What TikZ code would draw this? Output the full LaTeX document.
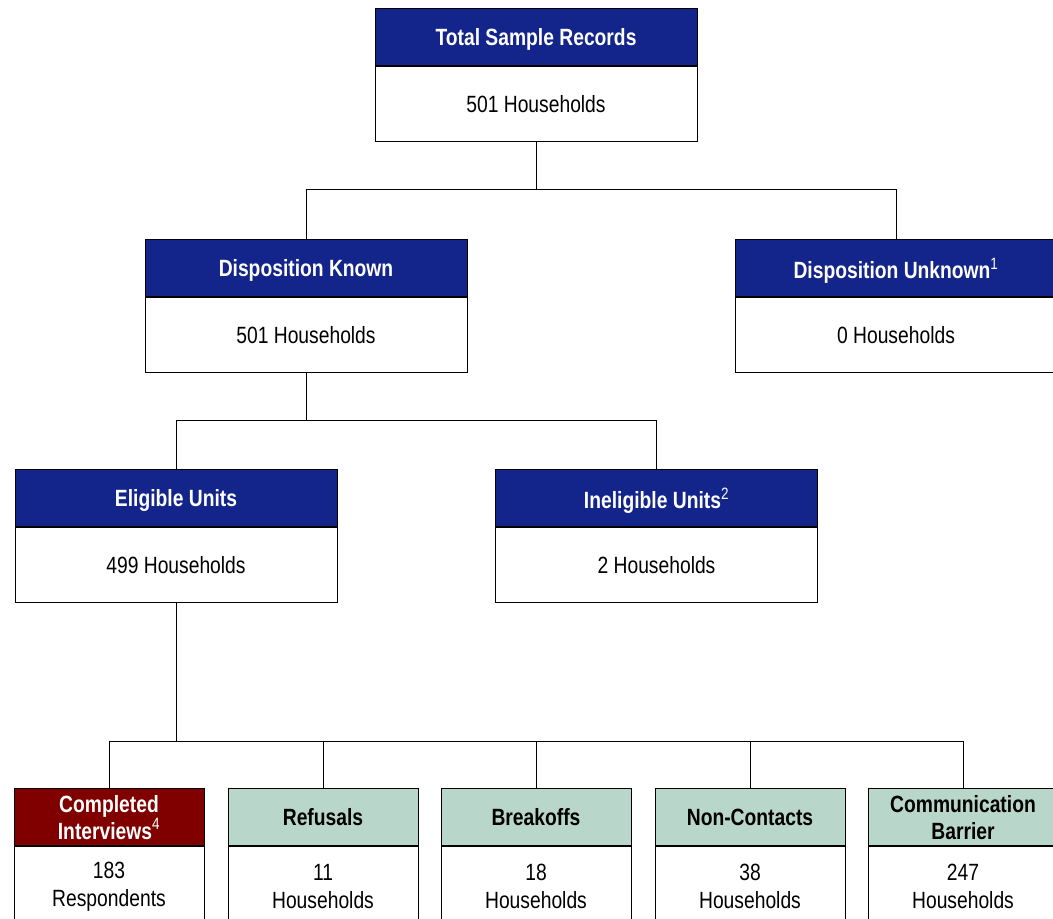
\documentclass[tikz,border=0pt]{standalone}
\usepackage{fontspec}
\setmainfont[FakeStretch=0.82]{Liberation Sans}
\definecolor{navy}{RGB}{19,36,138}
\definecolor{dred}{RGB}{128,0,0}
\definecolor{mint}{RGB}{185,214,203}
\newcommand{\fnmark}[1]{\textsuperscript{\mdseries #1}}
\begin{document}
\begin{tikzpicture}[x=1pt,y=-1pt,
  hdr/.style={draw=black, line width=1pt, minimum height=57pt, inner sep=0pt, anchor=north,
    text depth=0pt, font=\fontsize{23.5}{27}\selectfont\bfseries, align=center},
  bigw/.style={minimum width=322pt},
  smallw/.style={minimum width=190pt},
  navyh/.style={hdr, fill=navy, text=white},
  redh/.style={hdr, fill=dred, text=white},
  minth/.style={hdr, fill=mint, text=black},
  body/.style={draw=black, fill=white, line width=1pt, minimum height=75pt, anchor=north,
    inner sep=0pt, font=\fontsize{23.5}{28}\selectfont, align=center},
  tallbody/.style={body, minimum height=80pt},
  conn/.style={draw=black, line width=1pt}]
\useasboundingbox (0,0) rectangle (1053,919);
\clip (0,0) rectangle (1053,919);
\fill[white] (0,0) rectangle (1053,919);
% level 1
\node[navyh,bigw] (th) at (536,8) {Total Sample Records};
\node[body,bigw] (tb) at (th.south) {501 Households};
% level 2
\node[navyh,bigw] (kh) at (306,239) {Disposition Known};
\node[body,bigw] (kb) at (kh.south) {501 Households};
\node[navyh,bigw] (uh) at (896,239) {Disposition Unknown\fnmark{1}};
\node[body,bigw] (ub) at (uh.south) {0 Households};
% level 3
\node[navyh,bigw] (eh) at (176,469) {Eligible Units};
\node[body,bigw] (eb) at (eh.south) {499 Households};
\node[navyh,bigw] (ih) at (656.5,469) {Ineligible Units\fnmark{2}};
\node[body,bigw] (ib) at (ih.south) {2 Households};
% level 4
\node[redh,smallw] (c1h) at (109,788) {Completed\\Interviews\fnmark{4}};
\node[tallbody,smallw] (c1b) at (c1h.south) {183\\Respondents};
\node[minth,smallw] (c2h) at (323,788) {Refusals};
\node[tallbody,smallw] (c2b) at (c2h.south) {11\\Households};
\node[minth,smallw] (c3h) at (536,788) {Breakoffs};
\node[tallbody,smallw] (c3b) at (c3h.south) {18\\Households};
\node[minth,smallw] (c4h) at (750,788) {Non-Contacts};
\node[tallbody,smallw] (c4b) at (c4h.south) {38\\Households};
\node[minth,smallw] (c5h) at (963,788) {Communication\\Barrier};
\node[tallbody,smallw] (c5b) at (c5h.south) {247\\Households};
% connectors
\coordinate (j1) at (536,189);
\draw[conn] (tb.south) -- (j1) -| (kh.north);
\draw[conn] (j1) -| (uh.north);
\coordinate (j2) at (306,420);
\draw[conn] (kb.south) -- (j2) -| (eh.north);
\draw[conn] (j2) -| (ih.north);
\coordinate (j3) at (176,741);
\draw[conn] (eb.south) -- (j3) -| (c1h.north);
\draw[conn] (j3) -| (c2h.north);
\draw[conn] (j3) -| (c3h.north);
\draw[conn] (j3) -| (c4h.north);
\draw[conn] (j3) -| (c5h.north);
\end{tikzpicture}
\end{document}
